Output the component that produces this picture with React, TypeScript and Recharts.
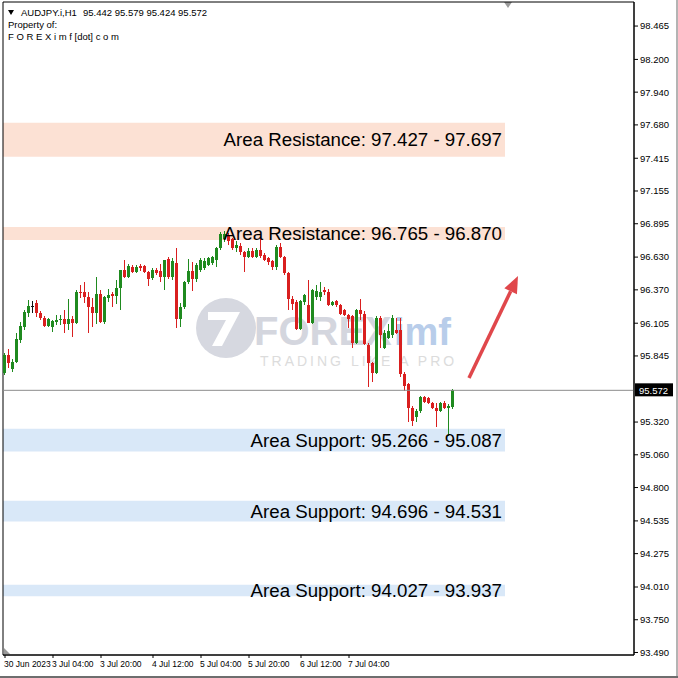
import { ComposedChart, Bar, XAxis, YAxis, ReferenceArea, ReferenceLine } from 'recharts';

const FONT = '"Liberation Sans", Arial, sans-serif';

const symbol = 'AUDJPY.i,H1';
const lastBar = [95.442, 95.579, 95.424, 95.572];
const currentPrice = 95.572;

// hourly candles (30 Jun -> 7 Jul 2023)
const opens = [
  95.706, 95.85, 95.738, 95.794, 95.969, 96.072, 96.184, 96.239, 96.263, 96.184,
  96.144, 96.08, 96.072, 96.112, 96.128, 96.136, 96.096, 96.136, 96.104, 96.35,
  96.35, 96.311, 96.231, 96.184, 96.334, 96.112, 96.303, 96.334, 96.319, 96.382,
  96.525, 96.47, 96.55, 96.51, 96.557, 96.557, 96.51, 96.462, 96.525, 96.517,
  96.47, 96.613, 96.47, 96.58, 96.136, 96.231, 96.43, 96.517, 96.454, 96.525,
  96.541, 96.57, 96.58, 96.605, 96.7, 96.77, 96.8, 96.77, 96.7, 96.72,
  96.67, 96.63, 96.68, 96.63, 96.69, 96.65, 96.62, 96.6, 96.55, 96.71,
  96.63, 96.5, 96.3, 96.27, 96.06, 96.27, 96.25, 96.11, 96.31, 96.31,
  96.365, 96.35, 96.25, 96.28, 96.25, 96.21, 96.17, 96.16, 95.95, 96.21,
  96.18, 95.93, 95.79, 95.71, 96.15, 95.91, 95.99, 96.01, 96.05, 96.05,
  95.7, 95.62, 95.43, 95.36, 95.41, 95.52, 95.51, 95.47, 95.43, 95.41,
  95.47, 95.43, 95.442,
];
const highs = [
  95.87, 95.898, 95.82, 96.025, 96.112, 96.207, 96.287, 96.279, 96.287, 96.2,
  96.16, 96.15, 96.13, 96.168, 96.168, 96.207, 96.295, 96.16, 96.366, 96.406,
  96.43, 96.35, 96.303, 96.47, 96.366, 96.32, 96.374, 96.35, 96.446, 96.53,
  96.605, 96.573, 96.57, 96.565, 96.573, 96.57, 96.52, 96.54, 96.54, 96.573,
  96.61, 96.63, 96.62, 96.7, 96.263, 96.44, 96.613, 96.589, 96.58, 96.62,
  96.62, 96.63, 96.64, 96.71, 96.83, 96.84, 96.82, 96.78, 96.76, 96.74,
  96.68, 96.7, 96.7, 96.7, 96.8, 96.66, 96.63, 96.61, 96.73, 96.74,
  96.64, 96.51, 96.32, 96.29, 96.29, 96.335, 96.45, 96.38, 96.41, 96.43,
  96.39, 96.38, 96.28, 96.29, 96.26, 96.22, 96.18, 96.17, 96.22, 96.3,
  96.2, 95.95, 95.8, 96.16, 96.16, 96.05, 96.1, 96.17, 96.15, 96.15,
  95.72, 95.63, 95.45, 95.42, 95.53, 95.53, 95.52, 95.48, 95.47, 95.48,
  95.49, 95.46, 95.579,
];
const lows = [
  95.69, 95.746, 95.715, 95.786, 95.945, 96.048, 96.152, 96.184, 96.152, 96.128,
  96.072, 96.072, 96.032, 96.088, 96.088, 96.025, 96.048, 95.993, 96.096, 96.303,
  96.263, 96.025, 96.072, 96.096, 96.104, 96.096, 96.271, 96.231, 96.255, 96.207,
  96.462, 96.462, 96.5, 96.5, 96.52, 96.5, 96.4, 96.45, 96.49, 96.43,
  96.366, 96.46, 96.45, 96.064, 96.072, 96.22, 96.42, 96.36, 96.43, 96.51,
  96.53, 96.56, 96.57, 96.55, 96.69, 96.75, 96.73, 96.69, 96.67, 96.65,
  96.51, 96.62, 96.62, 96.62, 96.62, 96.6, 96.57, 96.525, 96.525, 96.62,
  96.49, 96.21, 96.21, 96.05, 96.05, 96.25, 96.105, 96.1, 96.29, 96.28,
  96.33, 96.24, 96.24, 96.23, 96.17, 96.16, 96.07, 95.91, 95.94, 96.13,
  95.93, 95.6, 95.64, 95.7, 95.91, 95.9, 95.98, 95.99, 96.02, 95.68,
  95.57, 95.32, 95.29, 95.32, 95.39, 95.47, 95.46, 95.42, 95.28, 95.4,
  95.42, 95.21, 95.424,
];
const closes = [
  95.85, 95.786, 95.794, 95.977, 96.08, 96.192, 96.239, 96.239, 96.184, 96.144,
  96.08, 96.136, 96.12, 96.128, 96.136, 96.096, 96.136, 96.104, 96.35, 96.342,
  96.311, 96.231, 96.184, 96.334, 96.112, 96.311, 96.327, 96.319, 96.382, 96.525,
  96.47, 96.557, 96.51, 96.55, 96.541, 96.51, 96.46, 96.525, 96.505, 96.47,
  96.605, 96.47, 96.597, 96.136, 96.231, 96.43, 96.517, 96.454, 96.565, 96.605,
  96.6, 96.62, 96.63, 96.7, 96.81, 96.81, 96.76, 96.7, 96.73, 96.67,
  96.63, 96.68, 96.63, 96.69, 96.64, 96.61, 96.59, 96.55, 96.71, 96.63,
  96.5, 96.3, 96.26, 96.06, 96.28, 96.33, 96.11, 96.37, 96.36, 96.35,
  96.35, 96.25, 96.27, 96.25, 96.18, 96.17, 96.14, 95.95, 96.21, 96.18,
  95.94, 95.79, 95.71, 96.15, 96.01, 96.03, 96.04, 96.15, 96.03, 95.7,
  95.61, 95.43, 95.33, 95.41, 95.52, 95.48, 95.47, 95.43, 95.41, 95.47,
  95.43, 95.45, 95.572,
];

const timeLabels = ['30 Jun 2023', '3 Jul 04:00', '3 Jul 20:00', '4 Jul 12:00', '5 Jul 04:00', '5 Jul 20:00', '6 Jul 12:00', '7 Jul 04:00'];
const timeTickBars = [0, 12, 24, 37, 49, 61, 74, 86];

const priceTicks = [98.465, 98.2, 97.94, 97.68, 97.415, 97.155, 96.895, 96.63, 96.37, 96.105, 95.845, 95.32, 95.06, 94.8, 94.535, 94.275, 94.01, 93.75, 93.49];

const zoneNames = ['Area Resistance', 'Area Resistance', 'Area Support', 'Area Support', 'Area Support'];
const zoneFrom = [97.427, 96.765, 95.266, 94.696, 94.027];
const zoneTo = [97.697, 96.87, 95.087, 94.531, 93.937];
const zoneKinds = ['res', 'res', 'sup', 'sup', 'sup'];
const zoneEndBar = 125;

const arrowFrom = { x: 116, y: 95.669 };
const arrowTo = { x: 128.25, y: 96.48 };

const X_DOMAIN = [-0.5, 157.25];
const Y_DOMAIN = [93.47, 98.656];

const bars = opens.map((o, i) => ({
  i,
  open: o,
  high: highs[i],
  low: lows[i],
  close: closes[i],
  range: [lows[i], highs[i]],
}));

function Candle(props: any) {
  const { x, y, width, height, payload } = props;
  const top = Math.min(y, y + height);
  const h = Math.abs(height);
  const { open, close, high, low } = payload;
  const k = high > low ? h / (high - low) : 0;
  const yo = top + (high - open) * k;
  const yc = top + (high - close) * k;
  const color = close > open ? '#1f8a1f' : close < open ? '#d91f1f' : '#111';
  const cx = Math.floor(x + width / 2);
  return (
    <g shapeRendering="crispEdges">
      <rect x={cx} y={top} width={1} height={Math.max(1, h)} fill={color} />
      <rect x={cx - 1} y={Math.min(yo, yc)} width={3} height={Math.max(1, Math.abs(yc - yo))} fill={color} />
    </g>
  );
}

function TimeTick(props: any) {
  const { x, y, payload } = props;
  const idx = timeTickBars.indexOf(payload.value);
  return (
    <text x={x - 1} y={y} dy="0.8em" fontSize={8.5} fill="#000" textAnchor="start">
      {timeLabels[idx]}
    </text>
  );
}

function PriceTag(props: any) {
  const { viewBox } = props;
  const x = viewBox.x + viewBox.width + 1;
  const y = viewBox.y;
  return (
    <g>
      <rect x={x} y={y - 7} width={38} height={13} fill="#000" />
      <text x={x + 4} y={y} dominantBaseline="central" fill="#fff" fontSize={9.5}>
        {currentPrice.toFixed(3)}
      </text>
    </g>
  );
}

function Arrow(props: any) {
  const { x1, y1, x2, y2 } = props;
  const a = Math.atan2(y2 - y1, x2 - x1);
  const len = 17;
  const half = 7;
  const bx = x2 - len * Math.cos(a);
  const by = y2 - len * Math.sin(a);
  const px = -Math.sin(a) * half;
  const py = Math.cos(a) * half;
  return (
    <g>
      <line x1={x1} y1={y1} x2={bx} y2={by} stroke="#e0474b" strokeWidth={3.5} />
      <polygon points={`${x2},${y2} ${bx + px},${by + py} ${bx - px},${by - py}`} fill="#e0474b" />
    </g>
  );
}

function Backdrop() {
  // header text, watermark and small MT4 markers
  return (
    <svg width={678} height={678} style={{ position: 'absolute', left: 0, top: 0, fontFamily: FONT }}>
      <polygon points="8,10 14,10 11,15" fill="#000" />
      <text x={21} y={16} fontSize={9.5} fill="#000">{symbol}</text>
      <text x={83} y={16} fontSize={9.5} fill="#000">{lastBar.map((v) => v.toFixed(3)).join(' ')}</text>
      <text x={8} y={28} fontSize={9.5} fill="#000">Property of:</text>
      <text x={8} y={40} fontSize={9.5} fill="#000">F O R E X i m f [dot] c o m</text>
      <polygon points="504,2 512,2 508,8" fill="#9a9a9a" />
      <polygon points="4,648 4,654 10,654" fill="#9a9a9a" />

      <circle cx={226} cy={328} r={30} fill="#d6d8e0" />
      <path d="M208 312 L240 312 L222 346 L212 346 L226 320 L208 320 Z" fill="#fff" />
      <text x={254} y={345} fontSize={40} fontWeight="bold" fill="#d4d6de">FOREX</text>
      <text x={394} y={345} fontSize={38} fontWeight="bold" fill="#b8cdea">imf</text>
      <text x={260} y={366} fontSize={14} letterSpacing={3} fill="#dcdcdc">TRADING LIKE A PRO</text>
    </svg>
  );
}

export default function App() {
  return (
    <div style={{ position: 'absolute', left: 0, top: 0, width: 678, height: 678, background: '#fff', fontFamily: FONT }}>
      <Backdrop />
      <div style={{ position: 'absolute', left: 0, top: 0 }}>
        <ComposedChart width={678} height={678} data={bars} margin={{ top: 2, right: 0, bottom: 0, left: 3 }}>
          {zoneFrom.map((f, k) => (
            <ReferenceArea
              key={`z${k}`}
              x1={X_DOMAIN[0]}
              x2={zoneEndBar}
              y1={f}
              y2={zoneTo[k]}
              fill={zoneKinds[k] === 'res' ? '#fce1d4' : '#d9e8f8'}
              fillOpacity={1}
              stroke="none"
            />
          ))}
          <XAxis
            dataKey="i"
            type="number"
            domain={X_DOMAIN}
            allowDataOverflow
            ticks={timeTickBars}
            interval={0}
            tick={<TimeTick />}
            tickSize={3}
            tickLine={{ stroke: '#000' }}
            axisLine={{ stroke: '#000' }}
            height={23}
          />
          <YAxis
            orientation="right"
            type="number"
            scale="linear"
            domain={Y_DOMAIN}
            allowDataOverflow
            ticks={priceTicks}
            interval={0}
            tickFormatter={(v: number) => v.toFixed(3)}
            tick={{ fill: '#000', fontSize: 9.5 }}
            tickSize={4}
            tickMargin={2}
            tickLine={{ stroke: '#000' }}
            axisLine={{ stroke: '#000' }}
            width={44}
          />
          <ReferenceArea
            x1={X_DOMAIN[0]}
            x2={X_DOMAIN[1]}
            y1={Y_DOMAIN[0]}
            y2={Y_DOMAIN[1]}
            fill="none"
            stroke="#000"
          />
          <ReferenceLine y={currentPrice} stroke="#8c8c8c" label={PriceTag} />
          <Bar dataKey="range" barSize={3} shape={Candle} isAnimationActive={false} />
          {zoneFrom.map((f, k) => (
            <ReferenceArea
              key={`l${k}`}
              x1={X_DOMAIN[0]}
              x2={zoneEndBar}
              y1={f}
              y2={zoneTo[k]}
              fill="none"
              stroke="none"
              label={{
                value: `${zoneNames[k]}: ${f.toFixed(3)} - ${zoneTo[k].toFixed(3)}`,
                position: 'insideRight',
                offset: 3,
                fill: '#000',
                fontSize: 18.7,
              }}
            />
          ))}
          <ReferenceLine segment={[arrowFrom, arrowTo]} shape={Arrow} ifOverflow="visible" />
        </ComposedChart>
      </div>
      <div style={{ position: 'absolute', left: 676, top: 0, width: 2, height: 678, background: '#b4b4b4' }} />
      <div style={{ position: 'absolute', left: 0, top: 676, width: 678, height: 2, background: '#6e6e6e' }} />
    </div>
  );
}
